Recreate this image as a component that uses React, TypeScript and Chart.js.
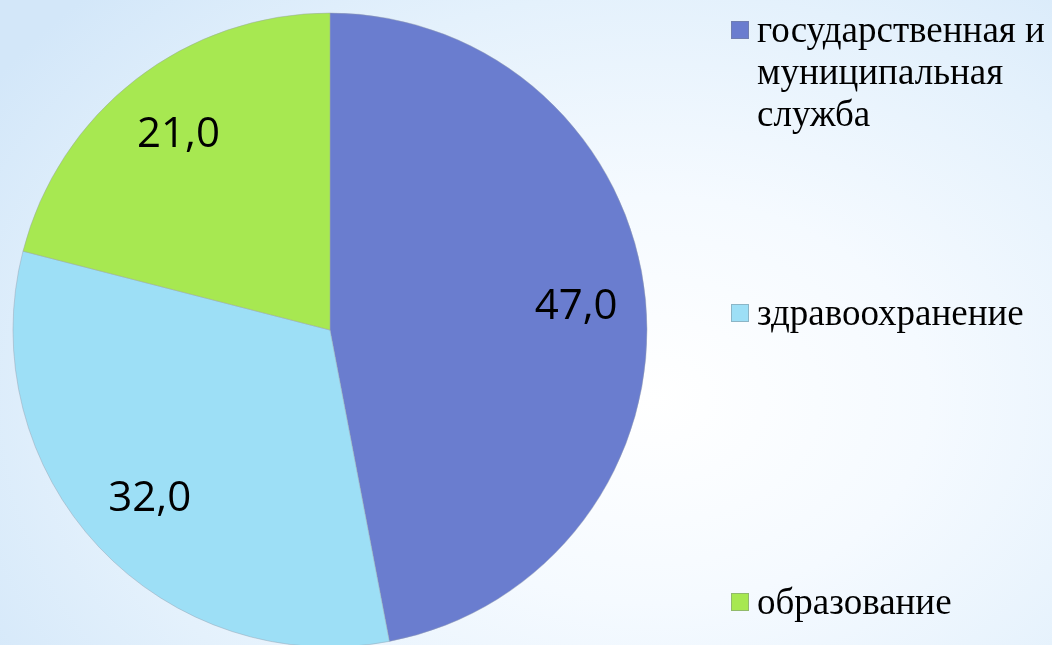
import React, { useEffect, useRef } from "react";
import { Chart, registerables } from "chart.js";

Chart.register(...registerables);

const categories: string[][] = [
  ["государственная и", "муниципальная", "служба"],
  ["здравоохранение"],
  ["образование"],
];
const values: number[] = [47.0, 32.0, 21.0];
const colors: string[] = ["#6a7dcf", "#9ddff6", "#a7e851"];

const legendRows = [30, 313, 602];
const LABEL_FONT = "42px 'Open Sans', sans-serif";

const labelPlugin = {
  id: "sliceLabels",
  afterDatasetsDraw(chart: any) {
    const ctx = chart.ctx;
    const meta = chart.getDatasetMeta(0);
    ctx.save();
    ctx.font = LABEL_FONT;
    ctx.fillStyle = "#000000";
    ctx.textAlign = "center";
    ctx.textBaseline = "middle";
    meta.data.forEach((arc: any, i: number) => {
      const p = arc.getProps(["x", "y", "startAngle", "endAngle", "outerRadius"], true);
      const mid = (p.startAngle + p.endAngle) / 2;
      const r = p.outerRadius * 0.78;
      const x = p.x + Math.cos(mid) * r;
      const y = p.y + Math.sin(mid) * r;
      const v = chart.data.datasets[0].data[i] as number;
      ctx.fillText(v.toFixed(1).replace(".", ","), x, y);
    });
    ctx.restore();
  },
};

export default function App() {
  const ref = useRef<HTMLCanvasElement>(null);
  useEffect(() => {
    document.body.style.margin = "0";
    const chart = new Chart(ref.current as HTMLCanvasElement, {
      type: "pie",
      data: {
        labels: categories.map((c) => c.join(" ")),
        datasets: [
          {
            data: values,
            backgroundColor: colors,
            borderColor: "rgba(150,160,175,0.45)",
            borderWidth: 1,
          },
        ],
      },
      options: {
        responsive: false,
        animation: false,
        radius: 317,
        layout: { padding: { left: 13, right: 405, top: 15, bottom: 0 } },
        plugins: {
          legend: { display: false },
          tooltip: { enabled: false },
        },
      } as any,
      plugins: [labelPlugin],
    });
    return () => chart.destroy();
  }, []);
  return (
    <div
      style={{
        position: "fixed",
        left: 0,
        top: 0,
        width: 1052,
        height: 645,
        overflow: "hidden",
        background:
          "radial-gradient(ellipse 75% 90% at 62% 62%, #ffffff 0%, #f5faff 35%, #e4f1fc 70%, #d3e7f9 100%)",
      }}
    >
      <canvas ref={ref} width={1052} height={645} style={{ display: "block" }} />
      {categories.map((lines, i) => (
        <div key={i}>
          <div
            style={{
              position: "absolute",
              left: 731,
              top: legendRows[i] - 9,
              width: 18,
              height: 18,
              background: colors[i],
              border: "1px solid rgba(120,130,140,0.45)",
              boxSizing: "border-box",
            }}
          />
          <div
            style={{
              position: "absolute",
              left: 757,
              top: legendRows[i] - 21,
              fontFamily: "'Liberation Serif', 'Times New Roman', serif",
              fontSize: 37,
              lineHeight: "42px",
              color: "#000",
              whiteSpace: "nowrap",
            }}
          >
            {lines.map((l, j) => (
              <div key={j}>{l}</div>
            ))}
          </div>
        </div>
      ))}
    </div>
  );
}
